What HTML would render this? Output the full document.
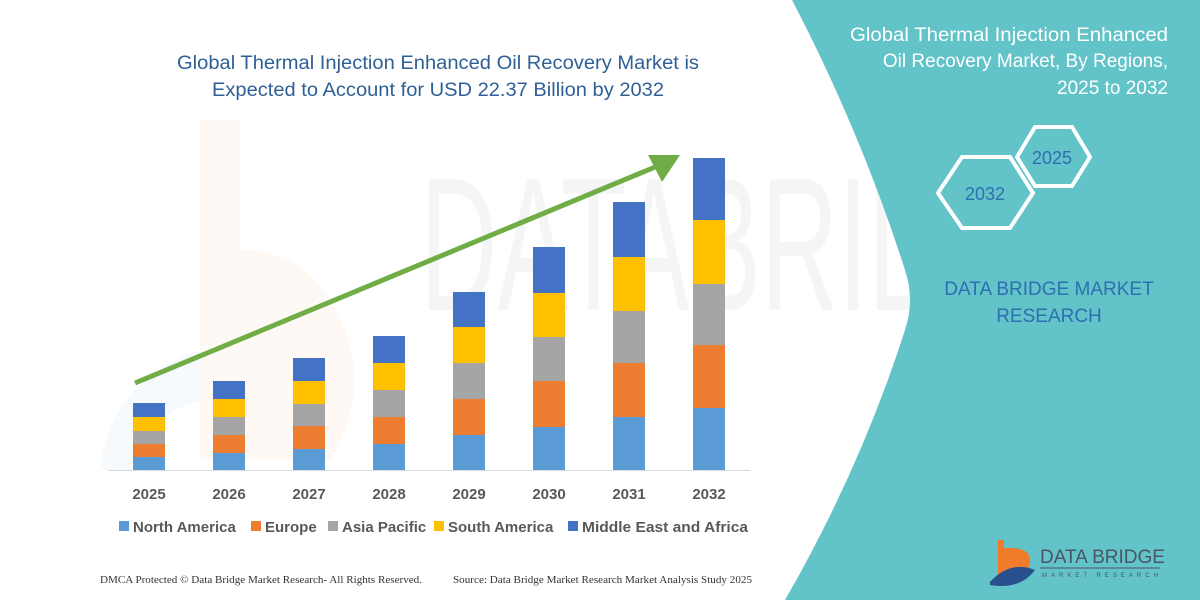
<!DOCTYPE html>
<html><head><meta charset="utf-8"><style>
html,body{margin:0;padding:0;background:#fff}
svg{display:block}
</style></head><body>
<svg width="1200" height="600" viewBox="0 0 1200 600" xmlns="http://www.w3.org/2000/svg" font-family="Liberation Sans, sans-serif">
<rect width="1200" height="600" fill="#fff"/>
<!-- faint watermark -->
<text x="420" y="310" font-size="190" fill="#000" opacity="0.035" textLength="680" lengthAdjust="spacingAndGlyphs">DATABRIDGE</text>
<path d="M200 120 L200 460 L330 460 Q380 380 330 300 Q300 250 240 250 L240 120 Z" fill="#f3a366" opacity="0.07"/>
<path d="M100 470 Q110 380 200 350 L200 400 Q140 420 130 470 Z" fill="#5b9bd5" opacity="0.05"/>
<!-- teal panel -->
<path d="M792 0 L1200 0 L1200 600 L785 600 Q860 470 905 330 Q915 300 905 270 Q860 130 792 0 Z" fill="#62c3c9"/>
<!-- titles -->
<text x="438" y="69" font-size="19" fill="#2e5f96" text-anchor="middle" textLength="522" lengthAdjust="spacingAndGlyphs">Global Thermal Injection Enhanced Oil Recovery Market is</text>
<text x="438" y="96" font-size="19" fill="#2e5f96" text-anchor="middle" textLength="452" lengthAdjust="spacingAndGlyphs">Expected to Account for USD 22.37 Billion by 2032</text>
<g font-size="19" fill="#fff" text-anchor="end">
<text x="1168" y="41" textLength="318" lengthAdjust="spacingAndGlyphs">Global Thermal Injection Enhanced</text>
<text x="1168" y="67">Oil Recovery Market, By Regions,</text>
<text x="1168" y="94">2025 to 2032</text>
</g>
<!-- hexagons -->
<polygon points="938,193 962,157 1010,157 1033,193 1010,228 962,228" fill="none" stroke="#fff" stroke-width="4"/>
<polygon points="1017,157 1035,127 1072,127 1090,157 1072,186 1035,186" fill="none" stroke="#fff" stroke-width="4"/>
<text x="985" y="200" font-size="18" fill="#2e6fb0" text-anchor="middle">2032</text>
<text x="1052" y="164" font-size="18" fill="#2e6fb0" text-anchor="middle">2025</text>
<text x="1049" y="295" font-size="19" fill="#2e6fb0" text-anchor="middle">DATA BRIDGE MARKET</text>
<text x="1049" y="322" font-size="19" fill="#2e6fb0" text-anchor="middle">RESEARCH</text>
<!-- logo -->
<path d="M998 540 L998 575 Q1030 580 1030 560 Q1030 548 1010 548 L1004 548 L1004 540 Z" fill="#f07b2b"/>
<path d="M990 582 Q1010 560 1035 570 Q1020 590 990 585 Z" fill="#2a4f8f"/>
<text x="1040" y="563" font-size="19" fill="#4a5566">DATA BRIDGE</text>
<line x1="1040" y1="568" x2="1160" y2="568" stroke="#4a5566" stroke-width="1"/>
<text x="1042" y="577" font-size="6" fill="#4a5566" letter-spacing="4">MARKET RESEARCH</text>
<!-- baseline -->
<line x1="108" y1="470.5" x2="750" y2="470.5" stroke="#d9d9d9" stroke-width="1"/>
<!-- bars -->
<g>
<rect x="133" y="403" width="32" height="14" fill="#4472c4"/><rect x="133" y="417" width="32" height="14" fill="#ffc000"/><rect x="133" y="431" width="32" height="13" fill="#a5a5a5"/><rect x="133" y="444" width="32" height="13" fill="#ed7d31"/><rect x="133" y="457" width="32" height="13" fill="#5b9bd5"/>
<rect x="213" y="381" width="32" height="18" fill="#4472c4"/><rect x="213" y="399" width="32" height="18" fill="#ffc000"/><rect x="213" y="417" width="32" height="18" fill="#a5a5a5"/><rect x="213" y="435" width="32" height="18" fill="#ed7d31"/><rect x="213" y="453" width="32" height="17" fill="#5b9bd5"/>
<rect x="293" y="358" width="32" height="23" fill="#4472c4"/><rect x="293" y="381" width="32" height="23" fill="#ffc000"/><rect x="293" y="404" width="32" height="22" fill="#a5a5a5"/><rect x="293" y="426" width="32" height="23" fill="#ed7d31"/><rect x="293" y="449" width="32" height="21" fill="#5b9bd5"/>
<rect x="373" y="336" width="32" height="27" fill="#4472c4"/><rect x="373" y="363" width="32" height="27" fill="#ffc000"/><rect x="373" y="390" width="32" height="27" fill="#a5a5a5"/><rect x="373" y="417" width="32" height="27" fill="#ed7d31"/><rect x="373" y="444" width="32" height="26" fill="#5b9bd5"/>
<rect x="453" y="292" width="32" height="35" fill="#4472c4"/><rect x="453" y="327" width="32" height="36" fill="#ffc000"/><rect x="453" y="363" width="32" height="36" fill="#a5a5a5"/><rect x="453" y="399" width="32" height="36" fill="#ed7d31"/><rect x="453" y="435" width="32" height="35" fill="#5b9bd5"/>
<rect x="533" y="247" width="32" height="46" fill="#4472c4"/><rect x="533" y="293" width="32" height="44" fill="#ffc000"/><rect x="533" y="337" width="32" height="44" fill="#a5a5a5"/><rect x="533" y="381" width="32" height="46" fill="#ed7d31"/><rect x="533" y="427" width="32" height="43" fill="#5b9bd5"/>
<rect x="613" y="202" width="32" height="55" fill="#4472c4"/><rect x="613" y="257" width="32" height="54" fill="#ffc000"/><rect x="613" y="311" width="32" height="52" fill="#a5a5a5"/><rect x="613" y="363" width="32" height="54" fill="#ed7d31"/><rect x="613" y="417" width="32" height="53" fill="#5b9bd5"/>
<rect x="693" y="158" width="32" height="62" fill="#4472c4"/><rect x="693" y="220" width="32" height="64" fill="#ffc000"/><rect x="693" y="284" width="32" height="61" fill="#a5a5a5"/><rect x="693" y="345" width="32" height="63" fill="#ed7d31"/><rect x="693" y="408" width="32" height="62" fill="#5b9bd5"/>
</g>
<!-- arrow -->
<line x1="135" y1="383" x2="660" y2="165" stroke="#70ad47" stroke-width="5"/>
<polygon points="680,155 648,155 662,182" fill="#70ad47"/>
<!-- year labels -->
<g font-size="15" font-weight="bold" fill="#595959" text-anchor="middle">
<text x="149" y="499">2025</text><text x="229" y="499">2026</text><text x="309" y="499">2027</text><text x="389" y="499">2028</text><text x="469" y="499">2029</text><text x="549" y="499">2030</text><text x="629" y="499">2031</text><text x="709" y="499">2032</text>
</g>
<!-- legend -->
<g font-size="15" font-weight="bold" fill="#595959">
<rect x="119" y="521" width="10" height="10" fill="#5b9bd5"/><text x="133" y="532">North America</text>
<rect x="251" y="521" width="10" height="10" fill="#ed7d31"/><text x="265" y="532">Europe</text>
<rect x="328" y="521" width="10" height="10" fill="#a5a5a5"/><text x="342" y="532">Asia Pacific</text>
<rect x="434" y="521" width="10" height="10" fill="#ffc000"/><text x="448" y="532">South America</text>
<rect x="568" y="521" width="10" height="10" fill="#4472c4"/><text x="582" y="532" textLength="166" lengthAdjust="spacingAndGlyphs">Middle East and Africa</text>
</g>
<!-- footer -->
<g font-family="Liberation Serif, serif" font-size="10" fill="#333">
<text x="100" y="583" textLength="322" lengthAdjust="spacingAndGlyphs">DMCA Protected © Data Bridge Market Research-  All Rights Reserved.</text>
<text x="453" y="583" textLength="299" lengthAdjust="spacingAndGlyphs">Source: Data Bridge Market Research  Market Analysis Study 2025</text>
</g>
</svg>
</body></html>
